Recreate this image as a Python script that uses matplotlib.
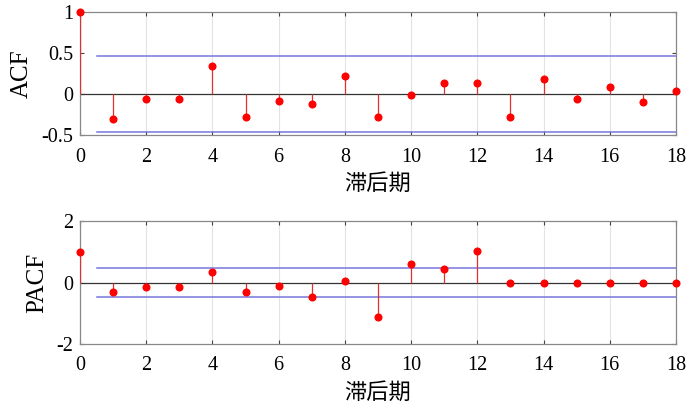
import matplotlib
matplotlib.use("Agg")
import matplotlib.pyplot as plt
import numpy as np

# ===========================
# Data
# ===========================
lags = list(range(19))
acf_vals = [1.0, -0.30, -0.06, -0.06, 0.345, -0.275, -0.08, -0.12, 0.225,
            -0.285, -0.015, 0.13, 0.14, -0.285, 0.185, -0.055, 0.09, -0.10, 0.04]
pacf_vals = [1.0, -0.30, -0.14, -0.14, 0.34, -0.31, -0.12, -0.465, 0.065,
             -1.12, 0.60, 0.425, 1.04, 0.0, 0.0, 0.0, 0.0, 0.0, 0.0]
acf_bound = 0.46
pacf_bound = 0.47
x_ticks = list(range(0, 19, 2))
acf_yticks = [-0.5, 0, 0.5, 1]
pacf_yticks = [-2, 0, 2]
x_label = "滞后期"

plt.rcParams['font.family'] = ['Liberation Serif', 'Noto Sans CJK SC']

fig = plt.figure(figsize=(6.88, 4.04), dpi=100)
W, H = 688, 404
ax1 = fig.add_axes([80 / W, 1 - 135 / H, 596 / W, 123 / H])
ax2 = fig.add_axes([80 / W, 1 - 344 / H, 596 / W, 123 / H])


def draw_panel(ax, vals, bound, yticks, ylim, ylabel):
    """ Stem plot with confidence bounds in MATLAB style """
    ax.grid(True, axis='x', color='#e3e3e3', linewidth=0.8)
    ax.set_axisbelow(True)
    ax.axhline(0, color='#333333', linewidth=0.9, zorder=2)
    ax.plot([0.5, 18], [bound, bound], color='#7777dd', linewidth=1.1, zorder=2)
    ax.plot([0.5, 18], [-bound, -bound], color='#7777dd', linewidth=1.1, zorder=2)
    ax.vlines(lags, 0, vals, color='#e03030', linewidth=0.9, zorder=3)
    ax.plot(lags, vals, 'o', color='#ff0000', markersize=4.8, zorder=4, clip_on=False)
    ax.set_xlim(0, 18)
    ax.set_ylim(*ylim)
    ax.set_xticks(x_ticks)
    ax.set_yticks(yticks)
    ax.set_yticklabels([f"{t:g}" for t in yticks])
    ax.tick_params(direction='in', top=True, right=True, length=3,
                   color='#444444', labelsize=14.5)
    ax.tick_params(axis='x', pad=9)
    ax.tick_params(axis='y', pad=5)
    for s in ax.spines.values():
        s.set_color('#888888')
        s.set_linewidth(0.9)
    ax.set_ylabel(ylabel, fontsize=18, labelpad=6)
    ax.set_xlabel(x_label, fontsize=16, family=['Noto Sans CJK SC'], labelpad=4)


draw_panel(ax1, acf_vals, acf_bound, acf_yticks, (-0.5, 1), "ACF")
draw_panel(ax2, pacf_vals, pacf_bound, pacf_yticks, (-2, 2), "PACF")

fig.savefig("out.png", dpi=100)
